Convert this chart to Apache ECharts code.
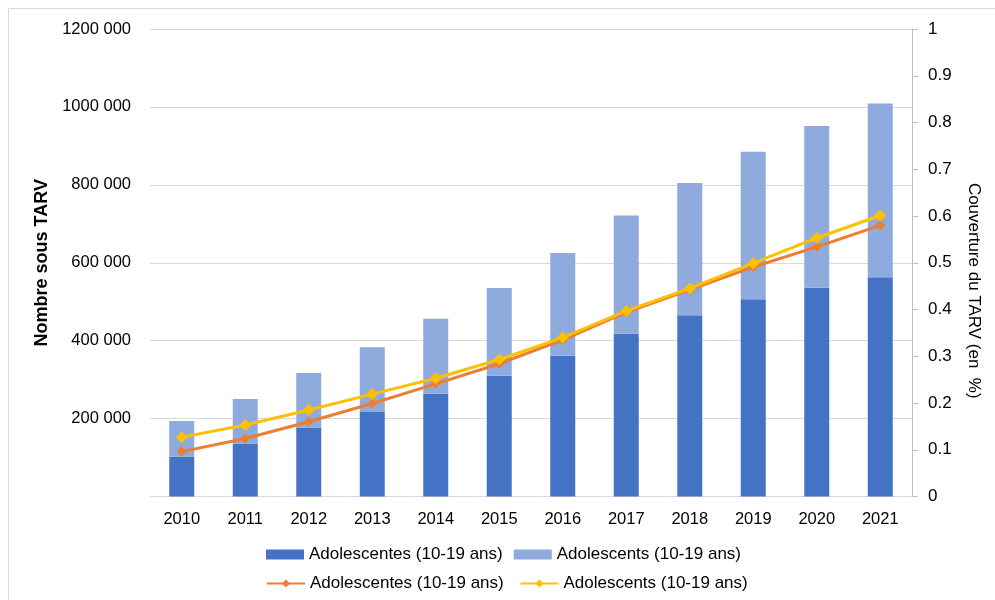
<!DOCTYPE html>
<html>
<head>
<meta charset="utf-8">
<script src="https://cdn.jsdelivr.net/npm/echarts@6/dist/echarts.min.js"></script>
<style>html,body{margin:0;padding:0;background:#fff}#c{width:995px;height:600px}</style>
</head>
<body>
<div id="c"></div>
<script>
const years = ['2010','2011','2012','2013','2014','2015','2016','2017','2018','2019','2020','2021'];
const barFemale = [102000,136000,177000,217000,264000,310000,361000,418000,465000,506000,536000,563000];
const barMale = [92000,114000,140000,166000,192000,225000,264000,303000,340000,379000,415000,446000];
const covFemale = [0.096,0.124,0.160,0.199,0.241,0.284,0.335,0.394,0.442,0.491,0.534,0.580];
const covMale = [0.127,0.153,0.185,0.219,0.253,0.293,0.340,0.397,0.445,0.499,0.553,0.601];
const nameF = 'Adolescentes (10-19 ans)';
const nameM = 'Adolescents (10-19 ans)';

const FONT = "'Liberation Sans', Arial, sans-serif";
const chart = echarts.init(document.getElementById('c'), null, {renderer: 'canvas'});
chart.setOption({
  animation: false,
  textStyle: {fontFamily: FONT, color: '#000'},
  graphic: [{
    type: 'rect', silent: true,
    shape: {x: 8.5, y: 8.5, width: 1000, height: 600},
    style: {fill: 'none', stroke: '#D9D9D9', lineWidth: 1}
  }],
  grid: {left: 150, right: 83, top: 29, bottom: 103.5, containLabel: false},
  legend: [{
    show: true, top: 546, left: 266, padding: 0, itemWidth: 38, itemHeight: 10, itemGap: 11,
    textStyle: {fontSize: 17, color: '#000', fontFamily: FONT},
    data: [{name: nameF, icon: 'rect'}, {name: nameM, icon: 'rect'}]
  }, {
    show: true, top: 575, left: 266, padding: 0, itemWidth: 38, itemHeight: 10, itemGap: 11,
    textStyle: {fontSize: 17, color: '#000', fontFamily: FONT},
    data: [{name: nameF + ' '}, {name: nameM + ' '}]
  }],
  xAxis: {
    type: 'category', data: years,
    axisLine: {lineStyle: {color: '#D9D9D9', width: 1}},
    axisTick: {show: false},
    axisLabel: {fontSize: 16.5, color: '#000', margin: 14, fontFamily: FONT}
  },
  yAxis: [{
    type: 'value', min: 0, max: 1200000, interval: 200000,
    name: 'Nombre sous TARV', nameLocation: 'middle', nameGap: 96,
    nameTextStyle: {fontSize: 18, fontWeight: 'bold', color: '#000', fontFamily: FONT},
    axisLine: {show: false}, axisTick: {show: false},
    axisLabel: {fontSize: 16.5, color: '#000', margin: 19, fontFamily: FONT,
      formatter: v => v === 0 ? '' : Math.floor(v / 1000) + ' 000'},
    splitLine: {lineStyle: {color: '#D9D9D9', width: 1}}
  }, {
    type: 'value', min: 0, max: 1, interval: 0.1, position: 'right',
    name: 'Couverture du TARV (en  %)', nameLocation: 'middle', nameGap: 53, nameRotate: -90,
    nameTextStyle: {fontSize: 17, color: '#000', fontFamily: FONT, padding: [0, 0, 0, 56]},
    axisLine: {show: true, lineStyle: {color: '#BFBFBF', width: 1}},
    axisTick: {show: true, inside: false, length: 6, lineStyle: {color: '#BFBFBF'}},
    axisLabel: {fontSize: 17, color: '#000', margin: 16, fontFamily: FONT,
      formatter: v => String(+v.toFixed(1))},
    splitLine: {show: false}
  }],
  series: [{
    name: nameF, type: 'bar', stack: 'tot', data: barFemale, barWidth: 25,
    itemStyle: {color: '#4472C4'}, yAxisIndex: 0
  }, {
    name: nameM, type: 'bar', stack: 'tot', data: barMale, barWidth: 25,
    itemStyle: {color: '#8FAADC'}, yAxisIndex: 0
  }, {
    name: nameF + ' ', type: 'line', data: covFemale, yAxisIndex: 1,
    symbol: 'diamond', symbolSize: 10,
    lineStyle: {color: '#ED7D31', width: 3}, itemStyle: {color: '#ED7D31'}
  }, {
    name: nameM + ' ', type: 'line', data: covMale, yAxisIndex: 1,
    symbol: 'diamond', symbolSize: 12,
    lineStyle: {color: '#FFC000', width: 3}, itemStyle: {color: '#FFC000'}
  }]
});
</script>
</body>
</html>
